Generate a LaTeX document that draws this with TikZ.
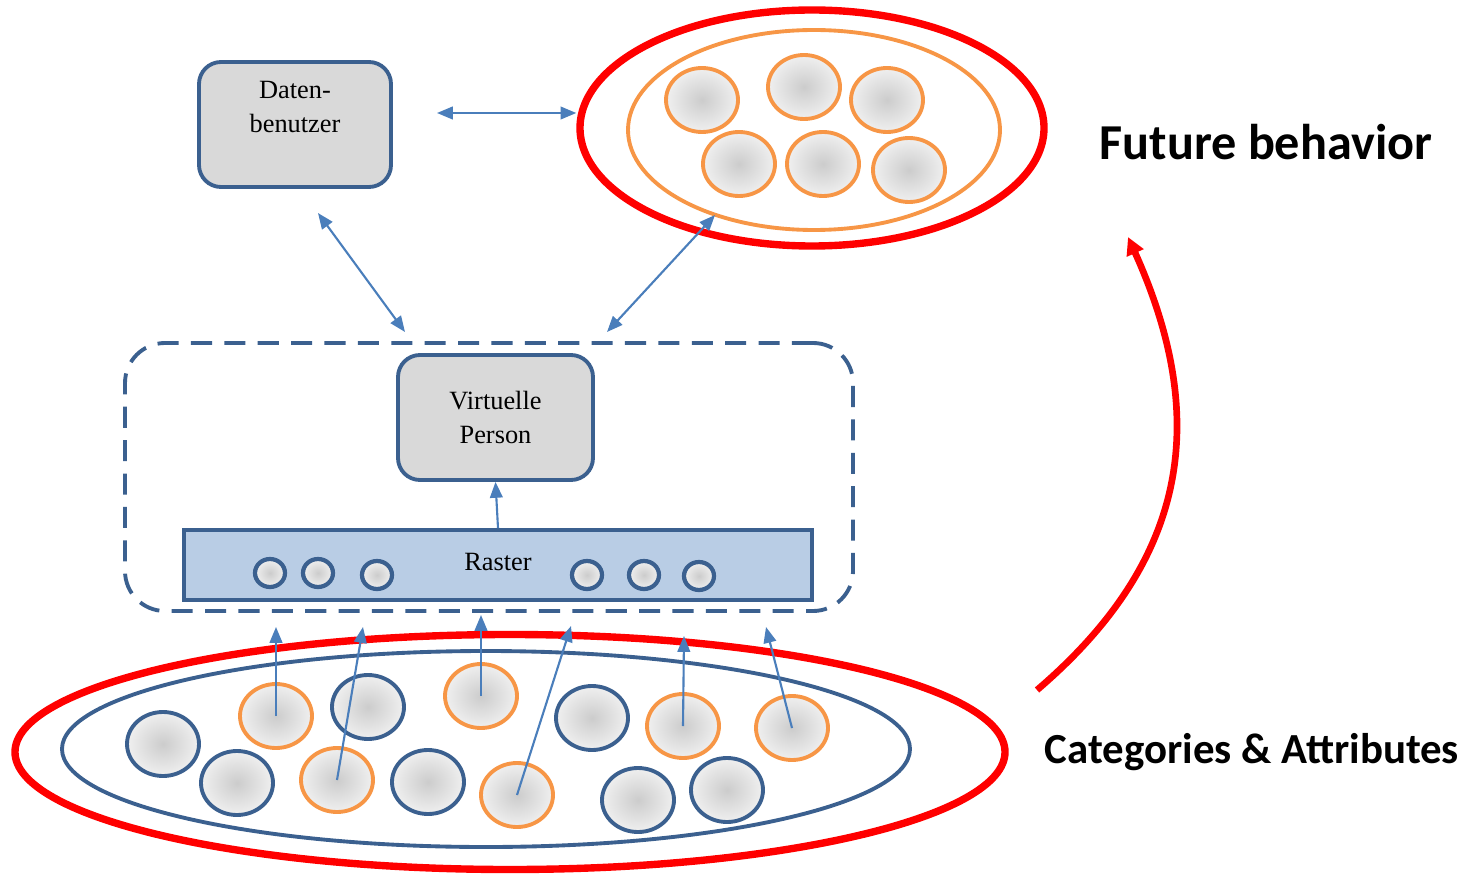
\documentclass[tikz,border=0pt]{standalone}
\usepackage{fontspec}
\setmainfont{Liberation Serif}
\newfontfamily\calibri{Carlito}
\usetikzlibrary{shapes.geometric,arrows.meta}

\definecolor{boxblue}{RGB}{59,96,143}
\definecolor{boxgrey}{RGB}{217,217,217}
\definecolor{linkblue}{RGB}{74,126,187}
\definecolor{rastfill}{RGB}{185,205,229}
\definecolor{dotorange}{RGB}{247,150,70}
\definecolor{ringred}{RGB}{255,0,0}

\tikzset{
  greybox/.style={draw=boxblue, line width=1.1pt, fill=boxgrey, rounded corners=0.22cm,
    inner sep=0pt, align=center, font=\fontsize{7.5}{9.4}\selectfont},
  boxtext/.style={align=center, font=\fontsize{7.5}{9.4}\selectfont, inner sep=0pt},
  dot/.style={ellipse, inner sep=0pt, line width=1.1pt, inner color=black!20, outer color=black!6,
    minimum width=0.72cm, minimum height=0.64cm},
  bluedot/.style={dot, draw=boxblue},
  orangedot/.style={dot, draw=dotorange},
  ring/.style={ellipse, draw=ringred, line width=2.1pt, inner sep=0pt},
  link/.style={draw=linkblue, line width=0.6pt, -{Triangle[length=4.5pt,width=3.6pt]}},
  biglink/.style={link, {Triangle[length=4.5pt,width=3.6pt]}-{Triangle[length=4.5pt,width=3.6pt]}},
  biglabel/.style={font=\calibri\bfseries},
}

\begin{document}
\begin{tikzpicture}[scale=1.0]
  \useasboundingbox (0,0) rectangle (14.78,8.74);

  % top row
  \node[greybox, minimum width=1.92cm, minimum height=1.25cm] (daten) at (2.95,7.495) {};
  \node[boxtext] (datentext) at (2.95,7.67) {Daten-\\benutzer};
  \node[ring, minimum width=4.64cm, minimum height=2.36cm] (future) at (8.12,7.46) {};
  \node[ellipse, draw=dotorange, line width=1.1pt, inner sep=0pt,
        minimum width=3.72cm, minimum height=2.0cm] (futureset) at (8.14,7.44) {};
  \foreach \x/\y [count=\i] in {7.02/7.74, 8.04/7.87, 8.87/7.74, 7.39/7.10, 8.23/7.10, 9.09/7.04}
    \node[orangedot] (f\i) at (\x,\y) {};

  % middle: frame with person and raster
  \node[draw=boxblue, line width=1.1pt, dash pattern=on 6pt off 3.5pt, rounded corners=0.4cm,
        minimum width=7.28cm, minimum height=2.68cm] (frame) at (4.89,3.97) {};
  \node[greybox, minimum width=1.95cm, minimum height=1.25cm] (virt) at (4.955,4.565) {Virtuelle\\Person};
  \node[draw=boxblue, fill=rastfill, line width=1.1pt, inner sep=0pt,
        minimum width=6.28cm, minimum height=0.70cm, font=\fontsize{7.5}{9.4}\selectfont] (raster) at (4.98,3.09) {\raisebox{2pt}{Raster}};
  \foreach \x/\y [count=\i] in {2.70/3.01, 3.18/3.01, 3.77/2.99, 5.87/2.99, 6.44/2.99, 6.99/2.98}
    \node[bluedot, minimum width=0.30cm, minimum height=0.28cm, line width=1.2pt] (r\i) at (\x,\y) {};

  % bottom: categories
  \node[ring, minimum width=9.90cm, minimum height=2.35cm] (base) at (5.10,1.22) {};
  \node[ellipse, draw=boxblue, line width=1.1pt, inner sep=0pt,
        minimum width=8.48cm, minimum height=1.96cm] (baseset) at (4.86,1.25) {};
  \foreach \x/\y [count=\i] in {1.63/1.30, 3.68/1.67, 5.92/1.56, 2.37/0.91, 4.28/0.92, 6.38/0.74, 7.27/0.84}
    \node[bluedot] (b\i) at (\x,\y) {};
  \foreach \x/\y [count=\i] in {2.76/1.58, 3.37/0.94, 4.81/1.78, 5.17/0.79, 6.83/1.48, 7.92/1.46}
    \node[orangedot] (o\i) at (\x,\y) {};

  % arrows
  \coordinate (dr) at (4.37,7.61);
  \coordinate (dl) at (3.18,6.61);
  \coordinate (fl) at (7.15,6.59);
  \coordinate (vl) at (4.05,5.42);
  \coordinate (vr) at (6.07,5.42);
  \draw[biglink] (dr) -- (dr -| future.west);
  \draw[biglink] (dl) -- (vl);
  \draw[biglink] (fl) -- (vr);
  \draw[link] (raster.north) -- (virt.south);
  \foreach \x/\y [count=\i] in {2.76/2.47, 3.63/2.47, 4.81/2.59, 5.71/2.48, 6.84/2.38, 7.66/2.47}
    \coordinate (up\i) at (\x,\y);
  \foreach \i in {1,...,6}
    \draw[link] (o\i.center) -- (up\i);

  % red bow
  \coordinate (bowstart) at (10.37,1.84);
  \coordinate (bowend) at (11.28,6.37);
  \draw[ringred, line width=1.9pt, -{Triangle[length=5pt,width=5pt]}]
    (bowstart) .. controls (11.89,3.14) and (12.10,4.55) .. (bowend);

  \node[biglabel, font=\calibri\bfseries\fontsize{14.3}{17}\selectfont] (futurelabel) at (12.66,7.32) {Future behavior};
  \node[biglabel, font=\calibri\bfseries\fontsize{12.2}{15}\selectfont] (catlabel) at (12.52,1.22) {Categories \& Attributes};
\end{tikzpicture}
\end{document}
